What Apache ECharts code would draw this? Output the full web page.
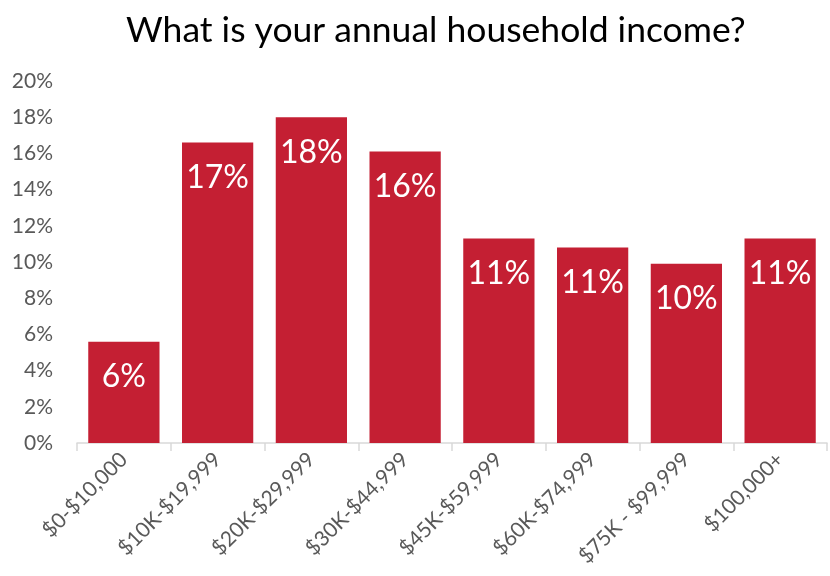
<!DOCTYPE html>
<html>
<head>
<meta charset="utf-8">
<script src="https://cdn.jsdelivr.net/npm/echarts@6/dist/echarts.min.js"></script>
<style>
  html, body { margin: 0; padding: 0; background: #fff; }
  #chart { width: 830px; height: 576px; }
</style>
</head>
<body>
<div id="chart"></div>
<script>
// Survey: annual household income brackets (share of respondents, %)
const incomeBrackets = ['$0-$10,000', '$10K-$19,999', '$20K-$29,999', '$30K-$44,999',
                        '$45K-$59,999', '$60K-$74,999', '$75K - $99,999', '$100,000+'];
const shareOfRespondents = [5.6, 16.6, 18.0, 16.1, 11.3, 10.8, 9.9, 11.3];
const yTicks = [0, 2, 4, 6, 8, 10, 12, 14, 16, 18, 20];

const FONT = 'Lato, "Open Sans", sans-serif';

const chart = echarts.init(document.getElementById('chart'));
chart.setOption({
  animation: false,
  title: {
    text: 'What is your annual household income?',
    left: 121,
    top: 8,
    textStyle: { fontFamily: FONT, fontSize: 35.5, fontWeight: 'normal', color: '#000' }
  },
  grid: { left: 77, right: 3, top: 81, bottom: 133 },
  xAxis: {
    type: 'category',
    data: incomeBrackets,
    axisLine: { lineStyle: { color: '#D9D9D9', width: 1.5 } },
    axisTick: { show: true, length: 8, lineStyle: { color: '#D9D9D9', width: 1.5 } },
    axisLabel: {
      rotate: 45,
      margin: 13,
      interval: 0,
      fontFamily: FONT,
      fontSize: 21,
      color: '#595959'
    }
  },
  yAxis: {
    type: 'value',
    min: yTicks[0],
    max: yTicks[yTicks.length - 1],
    interval: 2,
    splitLine: { show: false },
    axisLine: { show: false },
    axisTick: { show: false },
    axisLabel: {
      margin: 24,
      fontFamily: FONT,
      fontSize: 21,
      color: '#595959',
      formatter: v => v + '%'
    }
  },
  series: [{
    type: 'bar',
    data: shareOfRespondents,
    barCategoryGap: '24%',
    itemStyle: { color: '#C41F33' },
    label: {
      show: true,
      position: 'insideTop',
      distance: 19,
      fontFamily: FONT,
      fontSize: 32,
      color: '#fff',
      formatter: p => Math.round(p.value) + '%'
    }
  }]
});
</script>
</body>
</html>
